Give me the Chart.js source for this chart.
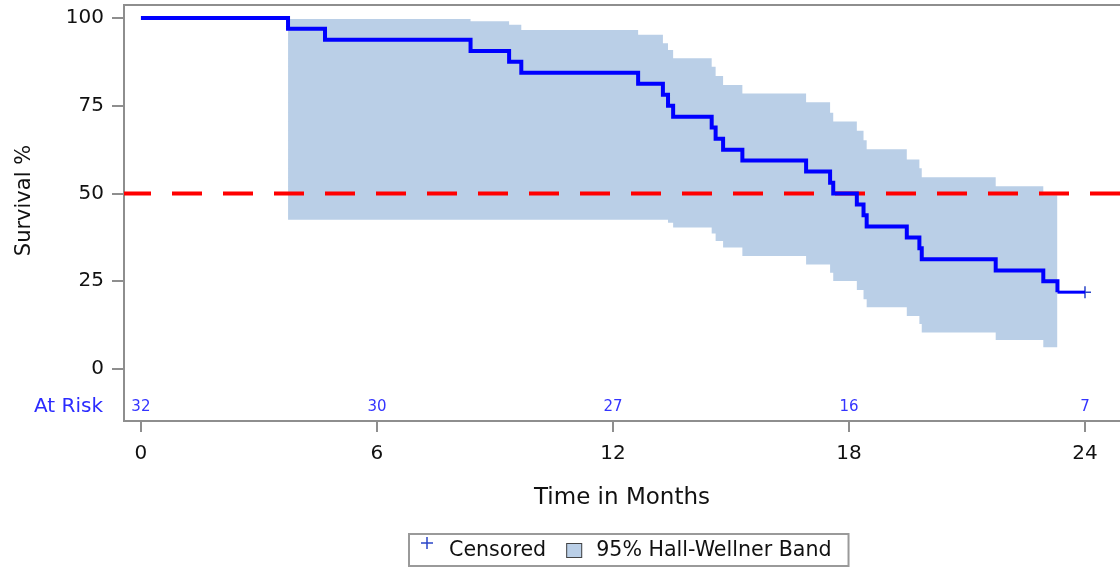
<!DOCTYPE html>
<html>
<head>
<meta charset="utf-8">
<script src="https://cdn.jsdelivr.net/npm/chart.js@4.4.1/dist/chart.umd.min.js"></script>
<style>
  html, body { margin: 0; padding: 0; background: #fff; }
  #wrap { width: 1120px; height: 567px; }
</style>
</head>
<body>
<div id="wrap"><canvas id="km" width="1120" height="567"></canvas></div>
<script>
// Kaplan-Meier estimate (months, survival %)
const times    = [0, 3.74, 4.68, 8.38, 9.36, 9.67, 12.64, 13.27, 13.40, 13.53, 14.51, 14.61, 14.80, 15.29, 16.91, 17.52, 17.60, 18.20, 18.37, 18.45, 19.47, 19.79, 19.85, 21.73, 22.94, 23.30, 24];
const survival = [100, 96.9, 93.8, 90.6, 87.5, 84.4, 81.3, 78.1, 75.0, 71.9, 68.8, 65.6, 62.5, 59.4, 56.3, 53.1, 50.0, 46.9, 43.8, 40.6, 37.5, 34.4, 31.3, 28.1, 25.0, 21.9, 21.9];

// Hall-Wellner band, from first to last event
const bandTimes = [3.74, 4.68, 8.38, 9.36, 9.67, 12.64, 13.27, 13.40, 13.53, 14.51, 14.61, 14.80, 15.29, 16.91, 17.52, 17.60, 18.20, 18.37, 18.45, 19.47, 19.79, 19.85, 21.73, 22.94, 23.30];
const bandUpper = [99.7, 99.7, 99.1, 98.1, 96.6, 95.2, 92.8, 90.9, 88.5, 86.1, 83.5, 80.9, 78.5, 76.0, 73.0, 70.5, 67.9, 65.2, 62.6, 59.7, 57.2, 54.6, 52.1, 49.5, 49.5];
const bandLower = [42.5, 42.5, 42.5, 42.5, 42.5, 42.5, 42.5, 41.7, 40.3, 38.6, 36.5, 34.6, 32.2, 29.8, 27.4, 25.1, 22.5, 19.9, 17.6, 15.1, 12.8, 10.4, 8.3, 6.2, 6.2];

const censoredTimes = [24];
const censoredValues = [21.9];

const riskTimes  = [0, 6, 12, 18, 24];
const riskCounts = [32, 30, 27, 16, 7];

const xTicks = [0, 6, 12, 18, 24];
const yTicks = [0, 25, 50, 75, 100];
const medianLine = 50;

const FONT = 'DejaVu Sans';
const axisGray = '#8e8e8e';
const bandColor = '#bacfe7';
const xMin = -0.43, xMax = 24.89;
const yMin = -14.8, yMax = 103.7;

// at-risk row, y title, top frame line and legend
const extras = {
  id: 'extras',
  afterDraw(chart) {
    const ctx = chart.ctx;
    const area = chart.chartArea;
    const xs = chart.scales.x, ys = chart.scales.y;
    ctx.save();
    // frame top
    ctx.strokeStyle = axisGray;
    ctx.lineWidth = 2;
    ctx.beginPath();
    ctx.moveTo(area.left - 1, area.top);
    ctx.lineTo(area.right, area.top);
    ctx.stroke();

    // y title
    ctx.save();
    ctx.translate(25, ys.getPixelForValue(48));
    ctx.rotate(-Math.PI / 2);
    ctx.font = '21px "' + FONT + '"';
    ctx.fillStyle = '#111';
    ctx.textAlign = 'center';
    ctx.textBaseline = 'middle';
    ctx.fillText('Survival %', 0, 0);
    ctx.restore();

    // numbers at risk
    const rowY = area.bottom - 14;
    ctx.textBaseline = 'middle';
    ctx.fillStyle = '#3434ff';
    ctx.font = '15px "' + FONT + '"';
    ctx.textAlign = 'center';
    riskTimes.forEach((t, i) => {
      ctx.fillText(String(riskCounts[i]), xs.getPixelForValue(t), rowY);
    });
    ctx.font = '20px "' + FONT + '"';
    ctx.textAlign = 'right';
    ctx.fillStyle = '#2b2bff';
    ctx.fillText('At Risk', area.left - 21, rowY);

    // legend
    ctx.font = '20.6px "' + FONT + '"';
    ctx.textAlign = 'left';
    const t1 = 'Censored', t2 = '95% Hall-Wellner Band';
    const w1 = ctx.measureText(t1).width, w2 = ctx.measureText(t2).width;
    const boxW = 12 + 12 + 16 + w1 + 20 + 16 + 14 + w2 + 17;
    const boxX = Math.round((area.left + area.right) / 2 + 7 - boxW / 2);
    const boxY = 534, boxH = 32;
    ctx.strokeStyle = '#9a9a9a';
    ctx.lineWidth = 2;
    ctx.strokeRect(boxX, boxY, boxW, boxH);
    const midY = boxY + boxH / 2;
    let cx = boxX + 12 + 6;
    ctx.strokeStyle = '#2a45c8';
    ctx.lineWidth = 1.5;
    ctx.beginPath();
    ctx.moveTo(cx - 6, midY - 7); ctx.lineTo(cx + 6, midY - 7);
    ctx.moveTo(cx, midY - 13); ctx.lineTo(cx, midY - 1);
    ctx.stroke();
    ctx.fillStyle = '#111';
    let tx = boxX + 12 + 12 + 16;
    ctx.fillText(t1, tx, midY + 1);
    tx += w1 + 20;
    ctx.fillStyle = bandColor;
    ctx.fillRect(tx, midY - 7, 16, 15);
    ctx.strokeStyle = '#444';
    ctx.lineWidth = 1;
    ctx.strokeRect(tx + 0.5, midY - 6.5, 15, 14);
    tx += 16 + 14;
    ctx.fillStyle = '#111';
    ctx.fillText(t2, tx, midY + 1);
    ctx.restore();
  }
};

const kmPoints = times.map((t, i) => ({ x: t, y: survival[i] }));
const lastSeg = times.length - 2;

new Chart(document.getElementById('km'), {
  type: 'line',
  data: {
    datasets: [
      {
        label: 'Survival',
        data: kmPoints,
        stepped: 'before',
        borderColor: '#0000ff',
        borderWidth: 4,
        pointRadius: 0,
        fill: false,
        segment: { borderWidth: c => c.p0DataIndex === lastSeg ? 3 : 4 }
      },
      {
        label: 'Censored',
        type: 'scatter',
        data: censoredTimes.map((t, i) => ({ x: t, y: censoredValues[i] })),
        pointStyle: 'cross',
        pointRadius: 6,
        borderColor: '#2a45c8',
        borderWidth: 1.5,
        showLine: false
      },
      {
        label: 'Median',
        data: [{ x: xMin, y: medianLine }, { x: xMax, y: medianLine }],
        borderColor: '#ff0000',
        borderWidth: 4,
        borderDash: [30, 21],
        borderDashOffset: 3,
        pointRadius: 0,
        fill: false
      },
      {
        label: 'Upper',
        data: bandTimes.map((t, i) => ({ x: t, y: bandUpper[i] })),
        stepped: 'before',
        borderWidth: 0,
        borderColor: 'rgba(0,0,0,0)',
        backgroundColor: bandColor,
        pointRadius: 0,
        fill: '+1'
      },
      {
        label: 'Lower',
        data: bandTimes.map((t, i) => ({ x: t, y: bandLower[i] })),
        stepped: 'before',
        borderWidth: 0,
        borderColor: 'rgba(0,0,0,0)',
        pointRadius: 0,
        fill: false
      }
    ]
  },
  options: {
    responsive: false,
    animation: false,
    layout: { autoPadding: false, padding: { top: 5, right: 0, left: 0, bottom: 0 } },
    plugins: {
      legend: { display: false },
      tooltip: { enabled: false }
    },
    scales: {
      x: {
        type: 'linear',
        min: xMin,
        max: xMax,
        afterBuildTicks: s => { s.ticks = xTicks.map(v => ({ value: v })); },
        afterFit: s => { s.height = 146; s.paddingLeft = 0; s.paddingRight = 0; },
        grid: { drawOnChartArea: false, drawTicks: true, tickLength: 11, color: axisGray, lineWidth: 2 },
        border: { color: axisGray, width: 2 },
        ticks: { font: { family: FONT, size: 20 }, color: '#111', padding: 10, maxRotation: 0 },
        title: {
          display: true,
          text: 'Time in Months',
          font: { family: FONT, size: 23 },
          color: '#111',
          padding: { top: 0, bottom: 55 }
        }
      },
      y: {
        min: yMin,
        max: yMax,
        afterBuildTicks: s => { s.ticks = yTicks.map(v => ({ value: v })); },
        afterFit: s => { s.width = 124; s.paddingTop = 0; s.paddingBottom = 0; },
        grid: { drawOnChartArea: false, drawTicks: true, tickLength: 12, color: axisGray, lineWidth: 2 },
        border: { color: axisGray, width: 2 },
        ticks: { font: { family: FONT, size: 20 }, color: '#111', padding: 8 }
      }
    }
  },
  plugins: [extras]
});
</script>
</body>
</html>
